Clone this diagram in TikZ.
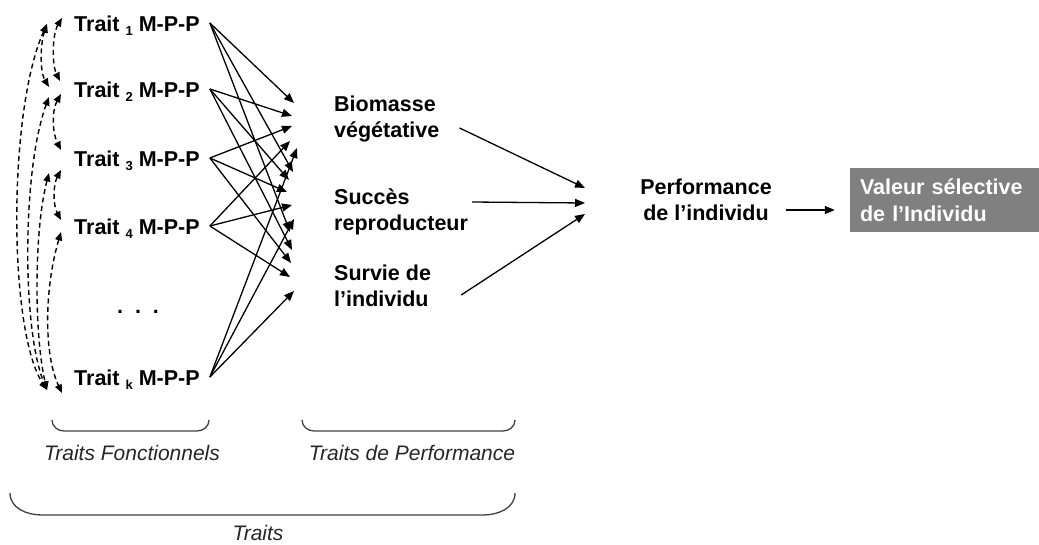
\documentclass[tikz,border=0pt]{standalone}
\usepackage{fontspec}
\setmainfont{Liberation Sans}
\usetikzlibrary{arrows.meta}
\newcommand\subidx[1]{\raisebox{-4.5pt}{\fontsize{13}{13}\selectfont #1}}
\begin{document}
\begin{tikzpicture}[x=1pt,y=-1pt,
  lab/.style={font=\fontsize{21.5}{26.5}\selectfont\bfseries, inner sep=0pt, align=left},
  trait/.style={lab, anchor=base west},
  arr/.style={-{Triangle[length=10pt,width=8pt]}, line width=1.3pt},
  darr/.style={{Triangle[length=8.5pt,width=7pt]}-{Triangle[length=8.5pt,width=7pt]}, dash pattern=on 5pt off 3.5pt, line width=1.4pt},
  brace/.style={line width=1.3pt, draw=black!75},
  capt/.style={font=\fontsize{21}{25}\selectfont\itshape, text=black!85, inner sep=0pt}
]
\useasboundingbox (0,0) rectangle (1039,544);

% functional traits
\node[trait] (t1) at (74,31) {Trait \subidx{1} M-P-P};
\node[trait] (t2) at (74,97) {Trait \subidx{2} M-P-P};
\node[trait] (t3) at (74,166) {Trait \subidx{3} M-P-P};
\node[trait] (t4) at (74,234) {Trait \subidx{4} M-P-P};
\node[trait] (tk) at (74,385) {Trait \subidx{k} M-P-P};
\node[lab, anchor=base] (dots) at (138,313) {.\ \ .\ \ .};

% performance traits
\node[lab, anchor=west] (bio) at (334,119) {Biomasse\\végétative};
\node[lab, anchor=west] (suc) at (334,212) {Succès\\reproducteur};
\node[lab, anchor=west] (sur) at (334,286) {Survie de\\l’individu};

\node[lab, align=center] (perf) at (706,200) {Performance\\de l’individu};
\node[lab, fill=black!50, text=white, minimum width=190pt, minimum height=64pt,
      text width=170pt, inner xsep=10pt] (val) at (945,200) {Valeur sélective\\de l’Individu};

% sources of trait arrows
\foreach \t in {1,2,3,4,k}{
  \coordinate (s\t) at ([xshift=10pt,yshift=8pt]t\t.base east);
}
% heads
\coordinate (h11) at (294,103);
\coordinate (h12) at (293,172);
\coordinate (h13) at (290,232);
\coordinate (h21) at (292,116);
\coordinate (h22) at (289,180);
\coordinate (h23) at (292,250);
\coordinate (h31) at (292,126);
\coordinate (h32) at (287,192);
\coordinate (h33) at (291,263);
\coordinate (h41) at (290,141);
\coordinate (h42) at (292,205);
\coordinate (h43) at (290,277);
\coordinate (hk1) at (297,148);
\coordinate (hk2) at (294,219);
\coordinate (hk3) at (294,291);

\foreach \t in {1,2,3,4,k}{
  \foreach \j in {1,2,3}{
    \draw[arr] (s\t) -- (h\t\j);
  }
}

% to performance
\coordinate (p1) at (585,188);
\coordinate (p2) at (585,203);
\coordinate (p3) at (585,214);
\draw[arr] ([xshift=20pt,yshift=-9pt]bio.east) -- (p1);
\draw[arr] ([xshift=4pt,yshift=10pt]suc.east) -- (p2);
\draw[arr] ([xshift=30pt,yshift=-9pt]sur.east) -- (p3);
\draw[arr] ([xshift=14pt,yshift=-10pt]perf.east) -- ([xshift=-15pt,yshift=-10pt]val.west);

% dashed correlations
\coordinate (a1) at (62,18);
\coordinate (b1) at (47,24);
\coordinate (a2u) at (60,81);
\coordinate (b2u) at (49,87);
\coordinate (a2d) at (61,94);
\coordinate (b2d) at (49,97);
\coordinate (a3u) at (61,150);
\coordinate (a3d) at (61,170);
\coordinate (b3d) at (49,173);
\coordinate (a4u) at (61,220);
\coordinate (a4d) at (61,232);
\coordinate (ak) at (62,393);
\coordinate (bk) at (47,390);
\draw[darr] (a1) .. controls (52,35) and (52,65) .. (a2u);
\draw[darr] (b1) .. controls (40,45) and (40,72) .. (b2u);
\draw[darr] (b1) .. controls (8,110) and (8,330) .. (bk);
\draw[darr] (a2d) .. controls (52,110) and (52,132) .. (a3u);
\draw[darr] (b2d) .. controls (22,170) and (22,330) .. (bk);
\draw[darr] (a3d) .. controls (53,185) and (53,205) .. (a4u);
\draw[darr] (b3d) .. controls (34,230) and (34,335) .. (bk);
\draw[darr] (a4d) .. controls (44,290) and (44,355) .. (ak);

% braces
\draw[brace] (52,420) to[out=-90,in=180] (64,431) -- (197,431) to[out=0,in=-90] (209,420);
\draw[brace] (302,420) to[out=-90,in=180] (314,431) -- (503,431) to[out=0,in=-90] (515,420);
\draw[brace] (10,493) to[out=-90,in=180] (42,515) -- (483,515) to[out=0,in=-90] (515,493);
\node[capt] (cf) at (132,453) {Traits Fonctionnels};
\node[capt] (cp) at (412,453) {Traits de Performance};
\node[capt] (ct) at (258,533) {Traits};
\end{tikzpicture}
\end{document}
